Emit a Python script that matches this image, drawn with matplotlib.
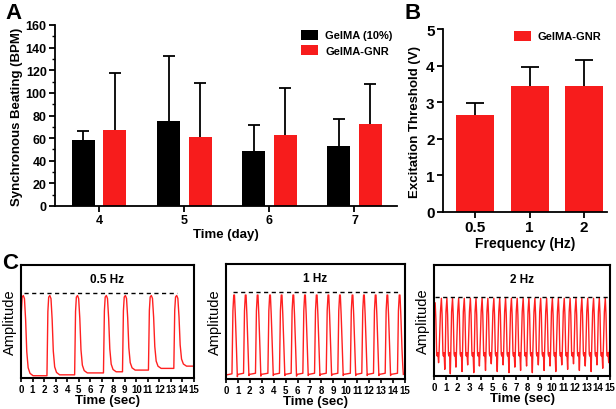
import numpy as np
import matplotlib
matplotlib.use("Agg")
import matplotlib.pyplot as plt
from matplotlib.ticker import MultipleLocator

plt.rcParams['font.family'] = ['Liberation Sans', 'DejaVu Sans']
plt.rcParams['font.weight'] = 'bold'

RED = '#f71c1c'

# ---------------- Panel A data ----------------
days = ['4', '5', '6', '7']
gelma_mean = [58.5, 75.3, 48.2, 53.0]
gelma_err = [7.4, 57.3, 23.3, 24.3]
gnr_mean = [66.8, 60.6, 62.9, 72.2]
gnr_err = [50.6, 48.2, 41.8, 35.4]

# ---------------- Panel B data ----------------
freqs = ['0.5', '1', '2']
thr_mean = [2.64, 3.43, 3.43]
thr_err = [0.33, 0.53, 0.72]

# ---------------- Panel C data ----------------
# 0.5 Hz trace: peak times (s), peak level, baselines between beats
p05_times = [0.2, 2.5, 4.9, 7.4, 9.05, 11.3, 13.5]
p05_peaks = [0.73, 0.73, 0.73, 0.73, 0.73, 0.73, 0.73]
p05_bases = [0.0, 0.02, 0.028, 0.045, 0.055, 0.07, 0.085, 0.105]
p05_dash = [0.26, 13.5, 0.756]

# 1 Hz trace
p1_times = [0.68, 1.65, 2.65, 3.69, 4.66, 5.64, 6.62, 7.6, 8.58, 9.55,
            10.6, 11.56, 12.54, 13.52, 14.55]
p1_peaks = [0.73] * 15
p1_bases = [0.045, 0.05, 0.05, 0.05, 0.05, 0.05, 0.05, 0.05, 0.05, 0.05,
            0.05, 0.05, 0.05, 0.05, 0.05, 0.05]
p1_troughs = [0.02, 0.03, 0.025, 0.03, 0.03, 0.025, 0.03, 0.03, 0.03, 0.03,
              0.03, 0.03, 0.03, 0.03, 0.1]
p1_dash = [0.6, 14.7, 0.76]

# 2 Hz trace
p2_times = [0.1, 0.63, 1.1, 1.58, 2.1, 2.58, 3.1, 3.58, 4.1, 4.59,
            5.1, 5.6, 6.1, 6.6, 7.09, 7.6, 8.09, 8.6, 9.09, 9.6,
            10.09, 10.6, 11.1, 11.6, 12.1, 12.6, 13.1, 13.6, 14.09, 14.6]
p2_peaks = [0.66, 0.7, 0.7, 0.7, 0.7, 0.7, 0.7, 0.7, 0.7, 0.7,
            0.7, 0.7, 0.7, 0.7, 0.7, 0.7, 0.7, 0.7, 0.7, 0.7,
            0.7, 0.7, 0.7, 0.7, 0.7, 0.7, 0.7, 0.7, 0.7, 0.7]
p2_dips = [0.12, 0.06, 0.02, 0.08, 0.04, 0.1, 0.03, 0.09, 0.05, 0.11,
           0.04, 0.1, 0.03, 0.08, 0.05, 0.09, 0.03, 0.1, 0.05, 0.09,
           0.04, 0.1, 0.06, 0.11, 0.05, 0.09, 0.04, 0.1, 0.07, 0.12]
p2_dash = [0.1, 14.9, 0.71]

W, H = 616, 410
fig = plt.figure(figsize=(W / 100, H / 100), dpi=100)


def px_axes(l, r, t, b):
    return fig.add_axes([l / W, (H - b) / H, (r - l) / W, (b - t) / H])


def style_ticks(ax, size):
    for lab in ax.get_xticklabels() + ax.get_yticklabels():
        lab.set_fontweight('bold')
        lab.set_fontsize(size)


def upper_errorbar(ax, xs, ys, errs, capsize):
    _, caps, _ = ax.errorbar(xs, ys, yerr=[np.zeros(len(errs)), errs], fmt='none',
                             ecolor='black', elinewidth=1.3, capsize=capsize,
                             capthick=1.3, zorder=1)
    caps[0].set_visible(False)  # hide lower cap drawn at bar top


# ---------------- Panel A ----------------
axA = px_axes(55, 397, 26, 207)
x = np.arange(4, 8)
bw = 0.27
off = 0.185
axA.bar(x - off, gelma_mean, bw, color='black', label='GelMA (10%)', zorder=2)
axA.bar(x + off, gnr_mean, bw, color=RED, label='GelMA-GNR', zorder=2)
upper_errorbar(axA, x - off, gelma_mean, gelma_err, 4.5)
upper_errorbar(axA, x + off, gnr_mean, gnr_err, 4.5)
axA.set_xlim(3.48, 7.5)
axA.set_ylim(0, 160)
axA.set_xticks(x)
axA.set_xticklabels(days)
axA.yaxis.set_major_locator(MultipleLocator(20))
axA.yaxis.set_minor_locator(MultipleLocator(10))
for s in ['top', 'right']:
    axA.spines[s].set_visible(False)
for s in ['left', 'bottom']:
    axA.spines[s].set_linewidth(1.3)
axA.tick_params(axis='both', width=1.3, length=4, pad=2)
axA.tick_params(axis='y', which='minor', width=1.0, length=2)
style_ticks(axA, 9)
axA.set_ylabel('Synchronous Beating (BPM)', fontsize=9.5, fontweight='bold', labelpad=2)
axA.set_xlabel('Time (day)', fontsize=9.5, fontweight='bold', labelpad=1)
axA.legend(loc='upper right', bbox_to_anchor=(398 / W, 1 - 25 / H),
           bbox_transform=fig.transFigure, frameon=False,
           prop={'weight': 'bold', 'size': 8}, handlelength=1.6,
           handleheight=1.0, handletextpad=0.6, labelspacing=0.4, borderpad=0)

# ---------------- Panel B ----------------
axB = px_axes(443, 607, 30, 213)
xb = np.arange(3)
axB.bar(xb, thr_mean, 0.7, color=RED, label='GelMA-GNR', zorder=2)
upper_errorbar(axB, xb, thr_mean, thr_err, 6.5)
axB.set_xlim(-0.59, 2.42)
axB.set_ylim(0, 5)
axB.set_xticks(xb)
axB.set_xticklabels(freqs)
axB.set_yticks(range(6))
for s in ['top', 'right']:
    axB.spines[s].set_visible(False)
for s in ['left', 'bottom']:
    axB.spines[s].set_linewidth(1.3)
axB.tick_params(axis='both', width=1.3, length=4, pad=2)
style_ticks(axB, 11)
axB.set_ylabel('Excitation Threshold (V)', fontsize=9.5, fontweight='bold', labelpad=4)
axB.set_xlabel('Frequency (Hz)', fontsize=10, fontweight='bold', labelpad=1)
axB.legend(loc='upper left', bbox_to_anchor=(508 / W, 1 - 26 / H),
           bbox_transform=fig.transFigure, frameon=False,
           prop={'weight': 'bold', 'size': 8}, handlelength=1.6,
           handleheight=1.0, handletextpad=0.6, borderpad=0)

# ---------------- Panel C ----------------
# beat shape template (time offset from peak, fraction between base and peak)
shape05_dt = [-0.25, -0.17, -0.1, 0.0, 0.1, 0.2, 0.3, 0.42, 0.58, 0.85]
shape05_fr = [0.0, 0.8, 0.98, 1.0, 0.96, 0.7, 0.3, 0.1, 0.03, 0.0]


def trace05():
    t, y = [], []
    for i, t0 in enumerate(p05_times):
        b0, b1, pk = p05_bases[i], p05_bases[i + 1], p05_peaks[i]
        for dt, fr in zip(shape05_dt, shape05_fr):
            base = b0 if dt <= 0 else b1
            t.append(t0 + dt)
            y.append(base + fr * (pk - base))
    t.append(15.2)
    y.append(p05_bases[-1])
    return t, y


def trace1():
    t, y = [0.0], [0.035]
    for i, t0 in enumerate(p1_times):
        b0, b1, pk, tr = p1_bases[i], p1_bases[i + 1], p1_peaks[i], p1_troughs[i]
        t += [t0 - 0.18, t0 - 0.1, t0 - 0.03, t0 + 0.03, t0 + 0.1, t0 + 0.2, t0 + 0.27, t0 + 0.31]
        y += [b0, b0 + 0.8 * (pk - b0), pk, pk, b1 + 0.75 * (pk - b1), b1 + 0.3 * (pk - b1), tr, b1 - 0.01]
    return t, y


def trace2():
    t, y = [0.0], [0.45]
    for i, t0 in enumerate(p2_times):
        pk, dp = p2_peaks[i], p2_dips[i]
        t += [t0 - 0.08, t0, t0 + 0.06, t0 + 0.13, t0 + 0.17, t0 + 0.23, t0 + 0.29, t0 + 0.33]
        y += [pk - 0.12, pk, pk - 0.15, 0.2, 0.18, 0.21, dp, 0.2]
    t.append(15.2)
    y.append(0.45)
    return t, y


panels = [
    ((21, 194, 266, 379), '0.5 Hz', trace05(), p05_dash),
    ((226, 405, 265, 380), '1 Hz', trace1(), p1_dash),
    ((434, 610, 266, 377), '2 Hz', trace2(), p2_dash),
]
for (l, r, t_, b), title, (tt, yy), dash in panels:
    ax = px_axes(l, r, t_, b)
    ax.plot(tt, yy, color='#ff2020', lw=1.0, solid_joinstyle='round')
    ax.plot([dash[0], dash[1]], [dash[2], dash[2]], color='black', lw=1.0,
            linestyle=(0, (3, 2.5)))
    ax.set_xlim(0, 15)
    ax.set_ylim(0, 1)
    ax.set_xticks(range(16))
    ax.set_yticks([])
    for s in ax.spines.values():
        s.set_linewidth(1.5)
    ax.tick_params(axis='x', width=1.2, length=3, pad=1.5)
    style_ticks(ax, 7)
    ax.text(0.5, 0.93, title, transform=ax.transAxes, ha='center', va='top',
            fontsize=8.5, fontweight='bold')
    ax.set_ylabel('Amplitude', fontsize=10.5, fontweight='normal', labelpad=3)
    ax.set_xlabel('Time (sec)', fontsize=9.5, fontweight='bold', labelpad=0)

# panel letters
fig.text(5 / W, 1 - 3 / H, 'A', fontsize=16, fontweight='bold', va='top', ha='left')
fig.text(405 / W, 1 - 3 / H, 'B', fontsize=16, fontweight='bold', va='top', ha='left')
fig.text(2 / W, 1 - 253 / H, 'C', fontsize=16, fontweight='bold', va='top', ha='left')

fig.savefig('out.png', dpi=100)
